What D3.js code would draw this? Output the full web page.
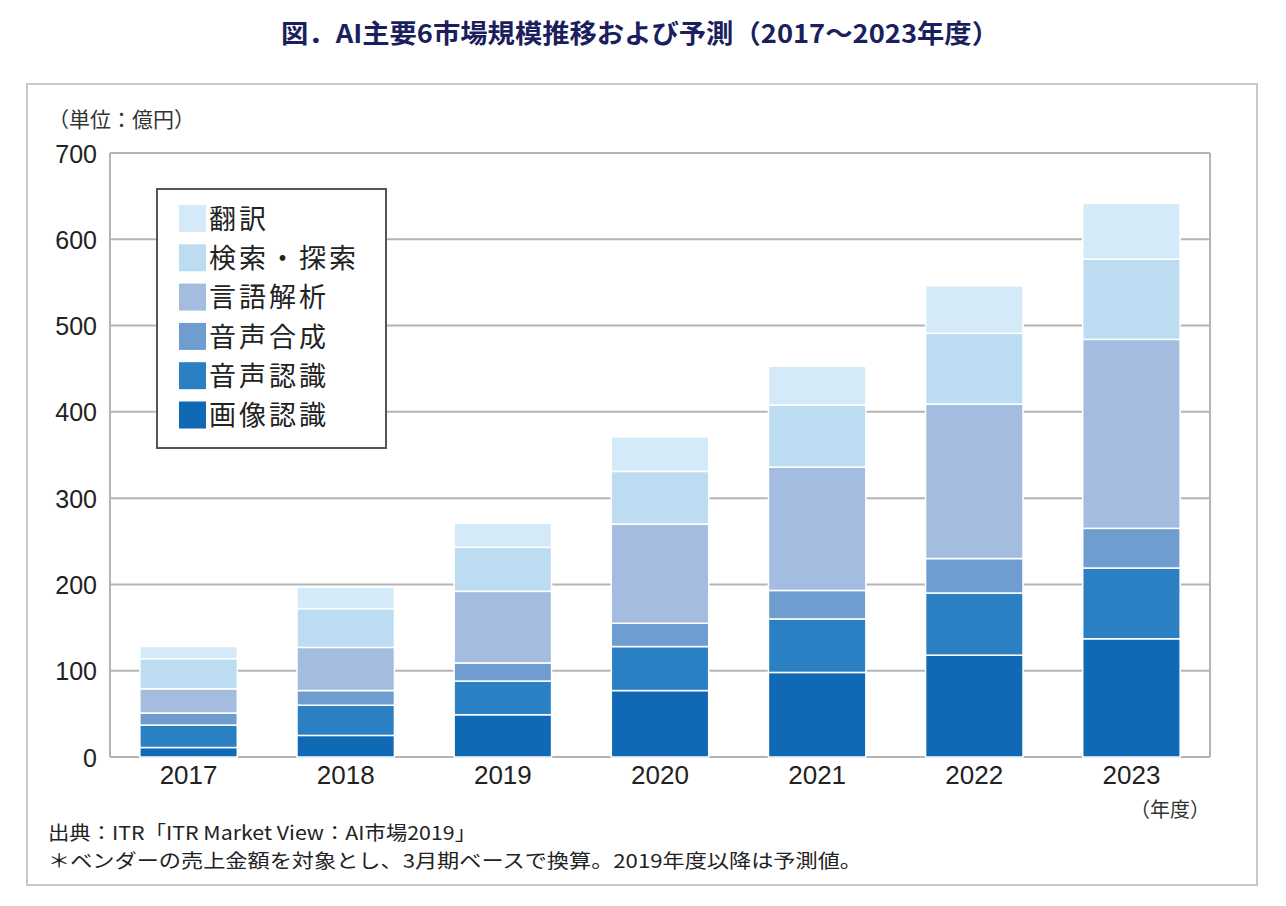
<!DOCTYPE html>
<html><head><meta charset="utf-8">
<script src="https://cdn.jsdelivr.net/npm/d3@7"></script>
<style>
html,body{margin:0;padding:0;background:#fff;}
svg{display:block;}
</style></head>
<body>
<script>
const years = ["2017","2018","2019","2020","2021","2022","2023"];
const seriesNames = ["画像認識","音声認識","音声合成","言語解析","検索・探索","翻訳"];
const imageRec   = [11, 25, 49, 77, 98, 118, 137];
const speechRec  = [26, 35, 39, 51, 62, 72, 82];
const speechSyn  = [14, 17, 21, 27, 33, 40, 46];
const langAnal   = [28, 50, 83, 115, 143, 179, 219];
const search     = [35, 45, 51, 61, 72, 82, 93];
const translate  = [14, 25, 28, 40, 45, 55, 65];
const yTicks = [0,100,200,300,400,500,600,700];
const colors = ["#0f69b4","#2a80c3","#6f9dd0","#a3bce0","#bcdcf2","#d4eaf8"];

const seriesValues = [imageRec, speechRec, speechSyn, langAnal, search, translate];
const table = years.map((y,i)=>{
  const o = {year:y};
  seriesNames.forEach((n,k)=>o[n]=seriesValues[k][i]);
  return o;
});

const W=1286,H=906;
const svg = d3.select("body").append("svg").attr("width",W).attr("height",H);
const jp = "'Noto Sans CJK JP','Noto Sans',sans-serif";
const lat = "'Liberation Sans',Arial,sans-serif";

// Title
svg.append("text").attr("x",640).attr("y",43).attr("text-anchor","middle")
  .attr("font-family",jp).attr("font-weight","bold").attr("font-size",26)
  .attr("fill","#1b1f5e").attr("textLength",718).attr("lengthAdjust","spacingAndGlyphs")
  .text("図．AI主要6市場規模推移および予測（2017〜2023年度）");

// outer frame
svg.append("rect").attr("x",27).attr("y",84).attr("width",1230).attr("height",801)
  .attr("fill","none").attr("stroke","#c8c8c8").attr("stroke-width",2);

const x = d3.scaleBand().domain(years).range([110,1210]).paddingInner(0.38).paddingOuter(0.19);
const y = d3.scaleLinear().domain([0,700]).range([757,153]);

// gridlines
svg.append("g").selectAll("line").data(yTicks).join("line")
  .attr("x1",110).attr("x2",1210).attr("y1",d=>y(d)).attr("y2",d=>y(d))
  .attr("stroke","#b4b4b4").attr("stroke-width",2);
// side borders
svg.append("line").attr("x1",110).attr("x2",110).attr("y1",y(700)).attr("y2",y(0)).attr("stroke","#b4b4b4").attr("stroke-width",2);
svg.append("line").attr("x1",1210).attr("x2",1210).attr("y1",y(700)).attr("y2",y(0)).attr("stroke","#b4b4b4").attr("stroke-width",2);

// y axis labels
const yAxis = d3.axisLeft(y).tickValues(yTicks).tickSize(0).tickPadding(0);
const gy = svg.append("g").attr("transform","translate(97,0)").call(yAxis);
gy.select(".domain").remove();
gy.selectAll("text").attr("font-family",lat).attr("font-size",25).attr("fill","#222").attr("dy","0.36em");

// x axis labels
const xAxis = d3.axisBottom(x).tickSize(0).tickPadding(0);
const gx = svg.append("g").attr("transform","translate(0,766)").call(xAxis);
gx.select(".domain").remove();
gx.selectAll("text").attr("font-family",lat).attr("font-size",26).attr("fill","#222").attr("dy","0.71em");

// stacked bars
const stack = d3.stack().keys(seriesNames)(table);
svg.append("g").selectAll("g").data(stack).join("g")
  .attr("fill",(d,i)=>colors[i])
  .selectAll("rect").data(d=>d).join("rect")
  .attr("x",d=>x(d.data.year)).attr("width",x.bandwidth())
  .attr("y",d=>y(d[1])).attr("height",d=>y(d[0])-y(d[1]))
  .attr("stroke","#ffffff").attr("stroke-width",1.5);

// unit label
svg.append("text").attr("x",48).attr("y",127).attr("font-family",jp).attr("font-size",21).attr("fill","#333")
  .text("（単位：億円）");

// legend
const lg = svg.append("g");
lg.append("rect").attr("x",157).attr("y",189).attr("width",229).attr("height",259)
  .attr("fill","#fff").attr("stroke","#555").attr("stroke-width",2);
const legendItems = seriesNames.map((n,i)=>({name:n,color:colors[i]})).reverse();
const li = lg.selectAll("g.item").data(legendItems).join("g").attr("class","item")
  .attr("transform",(d,i)=>`translate(179,${205+i*39.3})`);
li.append("rect").attr("width",27).attr("height",27).attr("fill",d=>d.color);
li.append("text").attr("x",30).attr("y",14).attr("dy","0.36em").attr("font-family",jp)
  .attr("font-size",27).attr("letter-spacing",3).attr("fill","#222").text(d=>d.name);

// year unit
svg.append("text").attr("x",1210).attr("y",817).attr("text-anchor","end").attr("font-family",jp)
  .attr("font-size",20).attr("fill","#333").text("（年度）");

// footer
svg.append("text").attr("x",48).attr("y",840).attr("font-family",jp).attr("font-size",19).attr("fill","#222")
  .attr("textLength",428).attr("lengthAdjust","spacingAndGlyphs")
  .text("出典：ITR「ITR Market View：AI市場2019」");
svg.append("text").attr("x",48).attr("y",868).attr("font-family",jp).attr("font-size",19).attr("fill","#222")
  .attr("textLength",814).attr("lengthAdjust","spacingAndGlyphs")
  .text("＊ベンダーの売上金額を対象とし、3月期ベースで換算。2019年度以降は予測値。");
</script>
</body></html>
